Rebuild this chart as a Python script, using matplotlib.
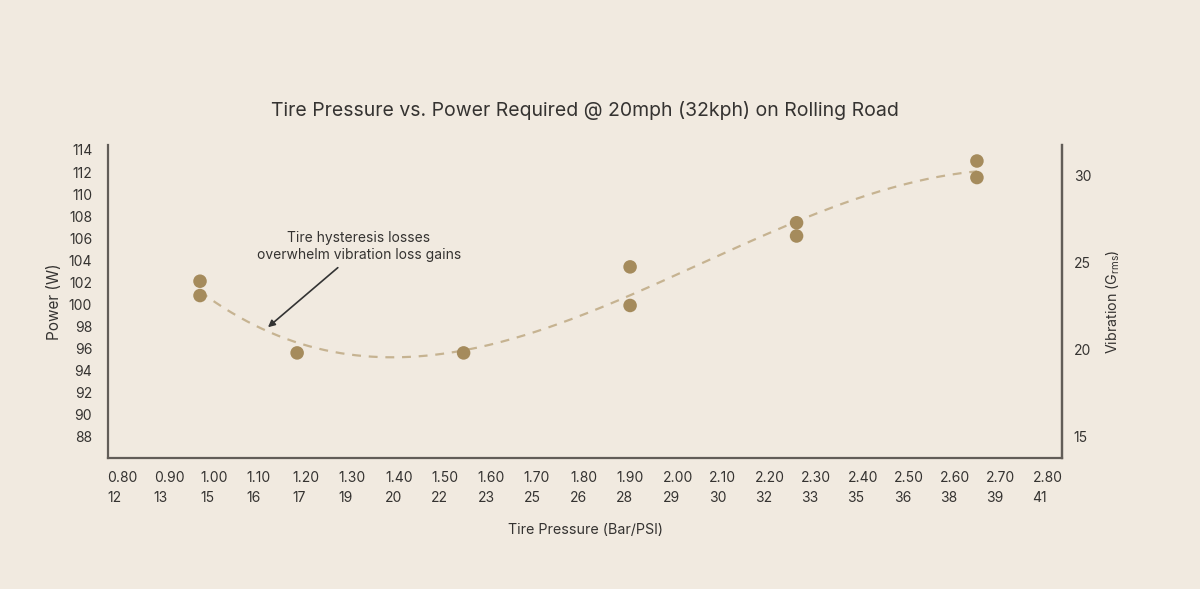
import numpy as np
import matplotlib
matplotlib.use("Agg")
import matplotlib.pyplot as plt

# ---- data ----
pressure_bar = [1.00, 1.00, 1.21, 1.57, 1.93, 1.93, 2.29, 2.29, 2.68, 2.68]
power_w      = [102.1, 100.8, 95.6, 95.6, 103.4, 99.9, 107.4, 106.2, 113.0, 111.5]

bar_ticks = [0.80, 0.90, 1.00, 1.10, 1.20, 1.30, 1.40, 1.50, 1.60, 1.70, 1.80,
             1.90, 2.00, 2.10, 2.20, 2.30, 2.40, 2.50, 2.60, 2.70, 2.80]
psi_labels = ["12", "13", "15", "16", "17", "19", "20", "22", "23", "25", "26",
              "28", "29", "30", "32", "33", "35", "36", "38", "39", "41"]
power_ticks = [88, 90, 92, 94, 96, 98, 100, 102, 104, 106, 108, 110, 112, 114]
vib_ticks = [15, 20, 25, 30]

title = "Tire Pressure vs. Power Required @ 20mph (32kph) on Rolling Road"
note = "Tire hysteresis losses\noverwhelm vibration loss gains"

# ---- style ----
BG = "#f1eae0"
DOT = "#a58b5c"
CURVE = "#c6b391"
TXT = "#353331"
SPINE = "#625d58"
FONT = ["Inter", "DejaVu Sans"]
plt.rcParams["font.family"] = FONT

fig = plt.figure(figsize=(12, 5.89), dpi=100, facecolor=BG)
ax = fig.add_axes([0.0896, 0.2224, 0.7958, 0.5314])
ax.set_facecolor(BG)

# trend curve (cubic fit of the measurements)
x = np.array(pressure_bar)
y = np.array(power_w)
coef = np.polyfit(x, y, 3)
xs = np.linspace(x.min(), x.max(), 200)
ax.plot(xs, np.polyval(coef, xs), color=CURVE, lw=1.6, ls=(0, (4, 3.5)), zorder=2)

ax.scatter(pressure_bar, power_w, s=95, color=DOT, edgecolors="none", zorder=3)

ax.set_xlim(0.80, 2.865)
ax.set_ylim(86.07, 114.45)
ax.set_xticks(bar_ticks)
ax.set_xticklabels([f"{b:.2f}\n{p}" for b, p in zip(bar_ticks, psi_labels)],
                   ha="left", fontsize=10, color=TXT)
for lbl in ax.get_xticklabels():
    lbl.set_linespacing(1.55)
    lbl.set_multialignment("left")
ax.set_yticks(power_ticks)
ax.set_yticklabels([str(t) for t in power_ticks], fontsize=10, color=TXT)
ax.tick_params(axis="x", length=0, pad=9)
ax.tick_params(axis="y", length=0, pad=11)

ax.spines["top"].set_visible(False)
for s in ["left", "bottom", "right"]:
    ax.spines[s].set_color(SPINE)
    ax.spines[s].set_linewidth(1.6)

ax.set_xlabel("Tire Pressure (Bar/PSI)", fontsize=10.3, color=TXT, labelpad=13)
ax.set_ylabel("Power (W)", fontsize=11, color=TXT, labelpad=5)

ax2 = ax.twinx()
ax2.set_ylim(13.78, 31.76)
ax2.set_yticks(vib_ticks)
ax2.set_yticklabels([str(t) for t in vib_ticks], fontsize=10, color=TXT)
ax2.tick_params(axis="y", length=0, pad=8)
for s in ["top", "left", "bottom"]:
    ax2.spines[s].set_visible(False)
ax2.spines["right"].set_color(SPINE)
ax2.spines["right"].set_linewidth(1.6)
ax2.set_ylabel(r"Vibration (G$_{\mathregular{rms}}$)", fontsize=10.3, color=TXT, labelpad=10)

fig.text(0.4875, 1 - 110 / 589, title, ha="center", va="center", fontsize=14, color=TXT)

# annotation
ax.text(1.343, 105.23, note, ha="center", va="center", fontsize=10, color=TXT,
        linespacing=1.3)
ax.annotate("", xy=(1.147, 97.93), xytext=(1.298, 103.33),
            arrowprops=dict(arrowstyle="-|>", color="#333333", lw=1.2,
                            mutation_scale=10, shrinkA=0, shrinkB=0))

fig.savefig("out.png", dpi=100, facecolor=BG)
